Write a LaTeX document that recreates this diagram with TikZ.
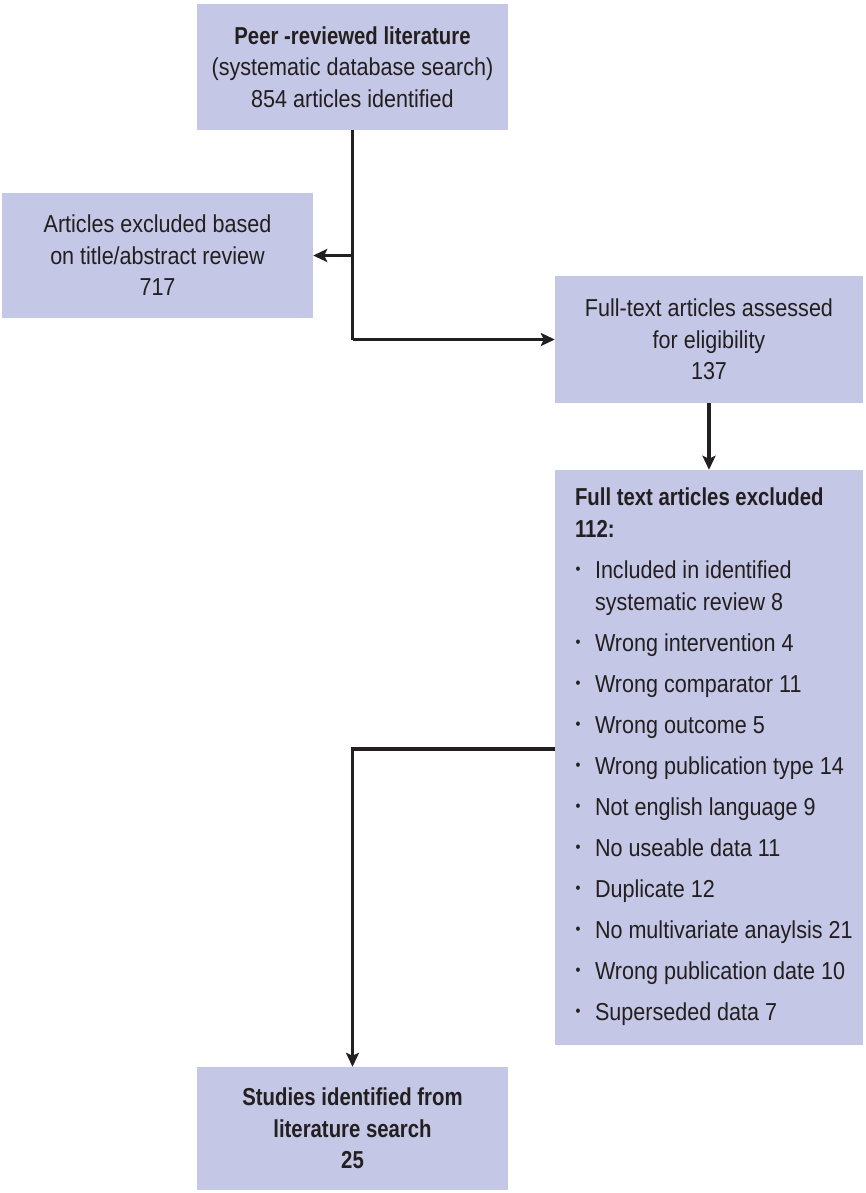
\documentclass[tikz,border=0pt]{standalone}
\usepackage{fontspec}
\setmainfont{Liberation Sans}[FakeStretch=0.88, BoldFeatures={FakeStretch=0.83}]
\usetikzlibrary{arrows.meta,calc}
\definecolor{boxfill}{RGB}{196,199,229}
\definecolor{ink}{RGB}{35,31,32}
\tikzset{
  box/.style={fill=boxfill, draw=none, inner sep=0pt, align=center, text=ink,
    font=\fontsize{24.5}{31.5}\selectfont},
  conn/.style={draw=ink, line width=3.5pt},
  arr/.style={conn, -{Stealth[length=14pt,width=13pt,inset=3pt]}},
  listtext/.style={inner sep=0pt, align=left, text=ink, font=\fontsize{24.5}{32}\selectfont}
}
\newcommand{\bul}{\makebox[20pt][l]{\hspace*{0.5pt}\raisebox{4pt}{\fontsize{16}{16}\selectfont\textbullet}}}
\begin{document}
\begin{tikzpicture}[x=1pt,y=-1pt]
\useasboundingbox (0,0) rectangle (865,1193);
\node[box, minimum width=311pt, minimum height=126pt] (top) at (352.5,67)
  {\textbf{Peer -reviewed literature}\\(systematic database search)\\854 articles identified};
\node[box, minimum width=311pt, minimum height=125pt] (excl) at (157.5,255.5)
  {Articles excluded based\\on title/abstract review\\717};
\node[box, minimum width=308pt, minimum height=127pt] (full) at (709,339.5)
  {Full-text articles assessed\\for eligibility\\137};
\node[box, minimum width=308pt, minimum height=575pt] (list) at (709,757.5) {};
\node[listtext, anchor=north west] (listtxt) at ($(list.north west)+(20,18)$)
  {\textbf{Full text articles excluded}\\
   \textbf{112:}\\[9pt]
   \bul Included in identified\\
   \hspace*{20pt}systematic review 8\\[9pt]
   \bul Wrong intervention 4\\[9pt]
   \bul Wrong comparator 11\\[9pt]
   \bul Wrong outcome 5\\[9pt]
   \bul Wrong publication type 14\\[9pt]
   \bul Not english language 9\\[9pt]
   \bul No useable data 11\\[9pt]
   \bul Duplicate 12\\[9pt]
   \bul No multivariate anaylsis 21\\[9pt]
   \bul Wrong publication date 10\\[9pt]
   \bul Superseded data 7};
\node[box, minimum width=311pt, minimum height=123pt] (bottom) at (352.5,1128.5)
  {\textbf{Studies identified from}\\\textbf{literature search}\\\textbf{25}};
\coordinate (split) at (top.south |- full.west);
\coordinate (turn) at (top.south |- 0,749);
\draw[conn] (top.south) -- (split);
\draw[arr] (top.south |- excl.east) -- (excl.east);
\draw[arr] (split) -- (full.west);
\draw[arr] (full.south) -- (list.north);
\draw[arr] (list.west |- turn) -- (turn) -- (bottom.north);
\end{tikzpicture}
\end{document}
